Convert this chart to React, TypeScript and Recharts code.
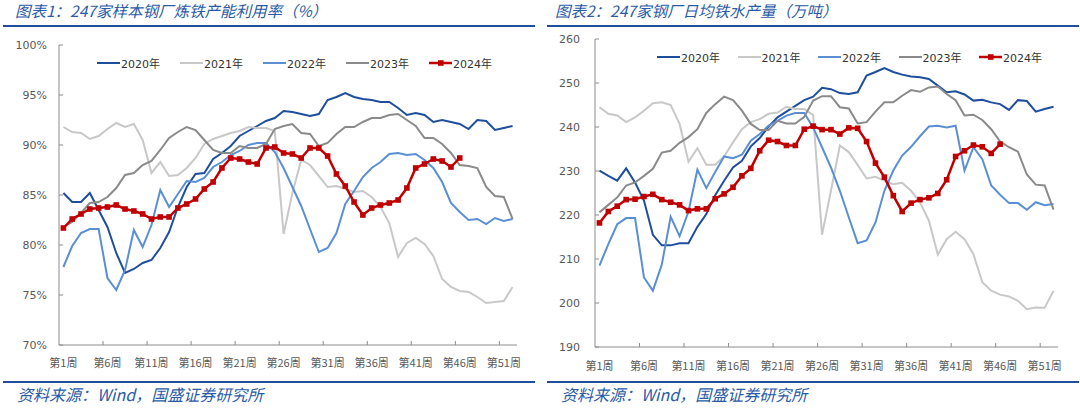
import { LineChart, Line, XAxis, YAxis, Legend } from 'recharts';

// x categories
const weeks = [
  '第1周', '第2周', '第3周', '第4周', '第5周', '第6周', '第7周', '第8周', '第9周', '第10周',
  '第11周', '第12周', '第13周', '第14周', '第15周', '第16周', '第17周', '第18周', '第19周', '第20周',
  '第21周', '第22周', '第23周', '第24周', '第25周', '第26周', '第27周', '第28周', '第29周', '第30周',
  '第31周', '第32周', '第33周', '第34周', '第35周', '第36周', '第37周', '第38周', '第39周', '第40周',
  '第41周', '第42周', '第43周', '第44周', '第45周', '第46周', '第47周', '第48周', '第49周', '第50周',
  '第51周', '第52周',
];
const weekTicks = ['第1周', '第6周', '第11周', '第16周', '第21周', '第26周', '第31周', '第36周', '第41周', '第46周', '第51周'];

const years = ['2020年', '2021年', '2022年', '2023年', '2024年'];
const yearColors = ['#1f4e9c', '#c8c8c8', '#5a8fd4', '#8a8a8a', '#c00000'];

// 图表1: 炼铁产能利用率 (%)
const util2020 = [85.2, 84.3, 84.3, 85.2, 83.5, 81.8, 79.2, 77.2, 77.6, 78.2, 78.5, 79.7, 81.3, 83.8, 85.8, 87.1, 87.2, 88.6, 89.2, 89.9, 90.9, 91.4, 91.9, 92.4, 92.7, 93.4, 93.3, 93.1, 92.9, 93.1, 94.5, 94.8, 95.2, 94.8, 94.6, 94.5, 94.3, 94.3, 93.7, 93.0, 93.2, 93.0, 92.3, 92.5, 92.3, 92.1, 91.6, 92.5, 92.4, 91.5, 91.7, 91.9];
const util2021 = [91.8, 91.3, 91.2, 90.6, 90.9, 91.6, 92.2, 91.8, 92.1, 90.5, 87.2, 88.3, 86.9, 87.0, 87.7, 88.7, 90.1, 90.6, 90.9, 91.2, 91.4, 91.8, 91.7, 91.7, 91.4, 81.1, 85.2, 88.5, 88.0, 86.9, 85.8, 85.9, 85.6, 85.3, 85.4, 84.8, 83.8, 82.2, 78.8, 80.2, 80.7, 80.1, 78.9, 76.6, 75.8, 75.4, 75.3, 74.8, 74.2, 74.3, 74.4, 75.8];
const util2022 = [77.8, 79.9, 81.2, 81.6, 81.6, 76.7, 75.5, 77.5, 81.5, 79.8, 82.0, 85.5, 83.8, 85.1, 86.4, 86.3, 86.7, 87.8, 88.3, 89.0, 89.4, 90.0, 90.2, 90.2, 89.3, 87.7, 85.8, 83.9, 81.6, 79.3, 79.7, 81.2, 84.1, 85.4, 86.8, 87.7, 88.3, 89.1, 89.2, 89.0, 89.1, 88.5, 87.7, 86.3, 84.2, 83.3, 82.5, 82.6, 82.1, 82.7, 82.4, 82.6];
const util2023 = [81.8, 82.3, 83.2, 84.2, 84.3, 84.8, 85.7, 87.0, 87.2, 88.0, 88.4, 89.5, 90.7, 91.3, 91.8, 91.5, 90.5, 89.5, 89.2, 89.2, 89.9, 89.7, 89.7, 90.1, 91.6, 91.9, 92.1, 91.2, 91.1, 89.9, 90.2, 91.1, 91.8, 91.8, 92.3, 92.7, 92.7, 93.0, 93.1, 92.5, 91.9, 90.7, 90.7, 90.1, 89.2, 88.0, 87.9, 87.7, 85.8, 84.9, 84.8, 82.6];
const util2024 = [81.7, 82.6, 83.1, 83.6, 83.7, 83.8, 84.0, 83.6, 83.4, 83.1, 82.6, 82.8, 82.8, 83.7, 84.1, 84.6, 85.6, 86.3, 87.7, 88.7, 88.6, 88.3, 88.1, 89.7, 89.8, 89.2, 89.1, 88.7, 89.7, 89.7, 88.9, 87.1, 85.9, 84.3, 83.0, 83.7, 84.0, 84.2, 84.5, 85.7, 87.7, 88.1, 88.6, 88.4, 87.8, 88.7];
const utilTicks = [70, 75, 80, 85, 90, 95, 100];

// 图表2: 日均铁水产量 (万吨)
const hm2020 = [230.1, 228.9, 227.8, 230.6, 227.4, 223.3, 215.5, 213.1, 213.1, 213.6, 213.6, 217.3, 220.2, 224.5, 227.8, 230.8, 232.3, 235.6, 237.5, 240.1, 242.2, 243.5, 244.8, 246.1, 246.9, 248.9, 248.6, 247.7, 247.5, 247.9, 251.7, 252.5, 253.4, 252.5, 251.9, 251.5, 251.3, 250.9, 249.4, 247.9, 248.1, 247.4, 246.0, 246.2, 245.6, 245.2, 243.9, 246.1, 245.9, 243.5, 244.1, 244.6];
const hm2021 = [244.5, 243.0, 242.6, 241.1, 242.2, 243.7, 245.4, 245.6, 245.0, 240.7, 232.1, 235.2, 231.4, 231.4, 233.3, 236.5, 239.5, 241.1, 241.8, 243.0, 243.3, 244.6, 244.1, 244.1, 242.7, 215.5, 225.5, 235.8, 234.3, 231.4, 228.3, 228.7, 227.8, 227.0, 227.3, 225.5, 222.9, 218.7, 211.0, 214.5, 216.2, 214.5, 211.1, 204.7, 202.8, 201.9, 201.5, 200.5, 198.6, 199.0, 198.9, 202.8];
const hm2022 = [208.5, 213.4, 217.9, 219.3, 219.3, 205.8, 202.8, 208.7, 219.6, 215.2, 220.8, 230.3, 226.1, 229.8, 233.3, 232.9, 233.7, 236.9, 238.4, 240.3, 241.4, 242.6, 243.2, 243.2, 239.9, 235.4, 230.8, 225.5, 219.5, 213.6, 214.2, 218.3, 225.5, 230.1, 233.5, 235.5, 237.9, 240.1, 240.3, 239.9, 240.3, 230.1, 235.4, 232.7, 226.7, 224.6, 222.7, 222.7, 221.2, 222.9, 222.2, 222.5];
const hm2023 = [220.6, 222.3, 224.0, 226.7, 227.4, 228.9, 230.5, 234.2, 234.6, 236.4, 237.7, 239.5, 243.2, 245.2, 246.9, 246.1, 243.7, 240.7, 239.3, 239.3, 241.4, 240.8, 240.8, 242.3, 246.0, 247.0, 247.0, 244.5, 244.2, 240.8, 241.1, 243.5, 245.6, 245.6, 247.1, 248.4, 248.0, 249.0, 249.2, 247.5, 246.1, 242.6, 242.8, 241.6, 239.5, 236.7, 235.4, 234.4, 229.2, 226.9, 226.7, 221.2];
const hm2024 = [218.2, 220.8, 222.0, 223.5, 223.6, 224.2, 224.7, 223.5, 222.9, 222.3, 221.0, 221.4, 221.4, 223.7, 224.8, 226.3, 228.9, 230.6, 234.6, 237.0, 236.7, 235.8, 235.8, 239.5, 240.2, 239.4, 239.4, 238.4, 239.8, 239.7, 236.7, 231.8, 228.6, 224.4, 220.8, 222.7, 223.5, 223.9, 224.9, 228.0, 233.3, 234.6, 235.9, 235.5, 234.0, 236.1];
const hmTicks = [190, 200, 210, 220, 230, 240, 250, 260];

const BLUE = '#2a5ba8';
const AXIS = '#8c8c8c';
const LABEL = '#595959';
const NUM_FONT = '"DejaVu Sans", "Noto Sans CJK SC", sans-serif';
const CJK_FONT = '"Noto Sans CJK SC", sans-serif';

type Row = Record<string, string | number | undefined>;

function buildRows(series: number[][]): Row[] {
  return weeks.map((week, i) => {
    const row: Row = { week };
    series.forEach((s, k) => {
      row[years[k]] = s[i];
    });
    return row;
  });
}

const SquareDot = (props: any) => {
  const { cx, cy } = props;
  if (cx == null || cy == null) return <g />;
  return <rect x={cx - 2.8} y={cy - 2.8} width={5.6} height={5.6} fill="#c00000" />;
};

type PanelProps = {
  offsetX: number;
  title: string;
  rows: Row[];
  domain: [number, number];
  ticks: number[];
  fmt: (v: number) => string;
  margin: { top: number; right: number; bottom: number; left: number };
  tickGap: number;
  band: number;
  legendLeft: number;
  legendTop: number;
  legendPitch: number;
  labelDy: number;
};

function Panel(p: PanelProps) {
  const plotLeft = p.margin.left + 50;
  const edge = p.offsetX === 0 ? 3 : 7;

  const YTick = (props: any) => {
    const { x, y, payload } = props;
    return (
      <g>
        <text x={x} y={y} dy={4} textAnchor="end" fontSize={11} fill={LABEL} fontFamily={NUM_FONT}>
          {p.fmt(payload.value)}
        </text>
        <line x1={plotLeft} x2={plotLeft + 4} y1={y} y2={y} stroke={AXIS} />
      </g>
    );
  };

  const XTick = (props: any) => {
    const { x, y, payload } = props;
    return (
      <g>
        {payload.value !== '第1周' && (
          <line x1={x - p.band / 2} x2={x - p.band / 2} y1={y} y2={y - 4} stroke={AXIS} />
        )}
        <text x={x} y={y + p.labelDy} textAnchor="middle" fontSize={11} fill={LABEL} fontFamily={CJK_FONT}>
          {payload.value}
        </text>
      </g>
    );
  };

  const legendContent = () => (
    <div style={{ display: 'flex' }}>
      {years.map((name, i) => (
        <div key={name} style={{ width: p.legendPitch, display: 'flex', alignItems: 'center', height: 14 }}>
          <svg width={24} height={10} style={{ flex: 'none' }}>
            <line x1={0} x2={23} y1={5} y2={5} stroke={yearColors[i]} strokeWidth={i === 4 ? 2.5 : 2} />
            {i === 4 && <rect x={9} y={2.2} width={5.6} height={5.6} fill={yearColors[i]} />}
          </svg>
          <span style={{ fontSize: 11, color: '#333', fontFamily: NUM_FONT, whiteSpace: 'nowrap' }}>{name}</span>
        </div>
      ))}
    </div>
  );

  return (
    <div style={{ position: 'absolute', left: p.offsetX, top: 0, width: 540, height: 409 }}>
      <div
        style={{
          position: 'absolute', left: 15, top: 2, fontSize: 15.5, lineHeight: '17px', color: BLUE,
          fontStyle: 'italic', fontFamily: CJK_FONT, whiteSpace: 'nowrap',
        }}
      >
        {p.title}
      </div>
      <div style={{ position: 'absolute', left: edge, top: 25, width: 532, height: 2, background: '#1f4e9c' }} />
      <div style={{ position: 'absolute', left: 0, top: 0 }}>
        <LineChart width={540} height={380} data={p.rows} margin={p.margin}>
          <XAxis
            dataKey="week"
            ticks={weekTicks}
            interval={0}
            height={30}
            padding={{ left: p.band / 2, right: p.band / 2 }}
            tickSize={0}
            tickMargin={0}
            tick={<XTick />}
            axisLine={{ stroke: AXIS }}
          />
          <YAxis
            width={50}
            domain={p.domain}
            ticks={p.ticks}
            interval={0}
            tickSize={0}
            tickMargin={p.tickGap}
            tick={<YTick />}
            axisLine={{ stroke: AXIS }}
            allowDataOverflow
          />
          <Legend
            layout="horizontal"
            verticalAlign="middle"
            align="center"
            wrapperStyle={{ left: p.legendLeft, top: p.legendTop, width: 'auto' }}
            content={legendContent}
          />
          {years.map((name, i) => (
            <Line
              key={name}
              dataKey={name}
              name={name}
              type="linear"
              stroke={yearColors[i]}
              strokeWidth={i === 4 ? 2.5 : 2}
              dot={i === 4 ? <SquareDot /> : false}
              activeDot={false}
              isAnimationActive={false}
            />
          ))}
        </LineChart>
      </div>
      <div style={{ position: 'absolute', left: edge, top: 381, width: 532, height: 2, background: '#1f4e9c' }} />
      <div
        style={{
          position: 'absolute', left: edge + 14, top: 384, fontSize: 16, lineHeight: '20px',
          color: BLUE, fontStyle: 'italic', fontFamily: CJK_FONT, whiteSpace: 'nowrap',
        }}
      >
        资料来源：Wind，国盛证券研究所
      </div>
    </div>
  );
}

const utilRows = buildRows([util2020, util2021, util2022, util2023, util2024]);
const hmRows = buildRows([hm2020, hm2021, hm2022, hm2023, hm2024]);

export default function App() {
  return (
    <div style={{ position: 'absolute', left: 0, top: 0, width: 1080, height: 409, background: '#fff', overflow: 'hidden' }}>
      <Panel
        offsetX={0}
        title="图表1：247家样本钢厂炼铁产能利用率（%）"
        rows={utilRows}
        domain={[70, 100]}
        ticks={utilTicks}
        fmt={(v) => `${v}%`}
        margin={{ top: 45, right: 23, bottom: 5, left: 9 }}
        tickGap={12}
        band={8.81}
        legendLeft={97}
        legendTop={56}
        legendPitch={83}
        labelDy={22}
      />
      <Panel
        offsetX={540}
        title="图表2：247家钢厂日均铁水产量（万吨）"
        rows={hmRows}
        domain={[190, 260]}
        ticks={hmTicks}
        fmt={(v) => `${v}`}
        margin={{ top: 39, right: 22, bottom: 3, left: 5 }}
        tickGap={15}
        band={8.9}
        legendLeft={117}
        legendTop={50}
        legendPitch={80.5}
        labelDy={23}
      />
    </div>
  );
}
